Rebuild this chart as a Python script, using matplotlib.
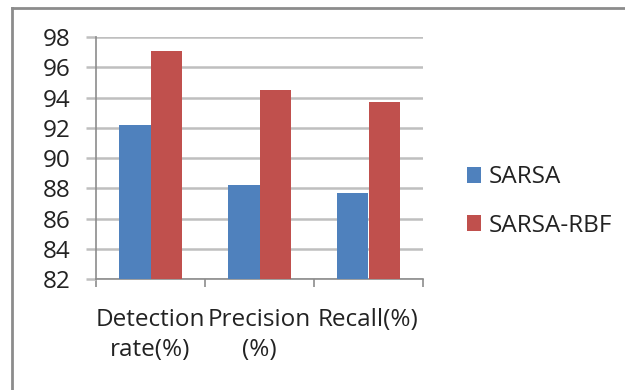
import matplotlib.pyplot as plt
import numpy as np
from matplotlib.lines import Line2D

categories = ['Detection\nrate(%)', 'Precision\n(%)', 'Recall(%)']
sarsa = [92.2, 88.2, 87.7]
sarsa_rbf = [97.1, 94.5, 93.7]
yticks = [82, 84, 86, 88, 90, 92, 94, 96, 98]

plt.rcParams['font.family'] = ['Open Sans', 'DejaVu Sans']

fig = plt.figure(figsize=(6.25, 3.9), dpi=100)
ax = fig.add_axes([0.1536, 0.2846, 0.5232, 0.6205])

x = np.arange(len(categories))
w = 0.285
ax.bar(x - w/2, sarsa, w, color='#4F81BD', label='SARSA', zorder=3)
ax.bar(x + w/2, sarsa_rbf, w, color='#C0504D', label='SARSA-RBF', zorder=3)

ax.set_ylim(82, 98)
ax.set_xlim(-0.5, len(categories) - 0.5)
ax.set_yticks(yticks)
ax.yaxis.grid(True, color='#bfbfbf', linewidth=1.8, zorder=0)
ax.tick_params(axis='y', length=7, width=1.8, color='#bfbfbf', labelsize=17.5,
               labelcolor='#222222', pad=11)

ax.set_xticks(x)
ax.set_xticklabels(categories, fontsize=17.5, color='#222222', linespacing=1.35)
ax.tick_params(axis='x', which='major', length=0, pad=21)
ax.set_xticks(np.arange(-0.5, len(categories)), minor=True)
ax.tick_params(axis='x', which='minor', length=6, width=1.2, color='#8c8c8c')

for side in ['top', 'right']:
    ax.spines[side].set_visible(False)
ax.spines['left'].set_color('#8c8c8c')
ax.spines['bottom'].set_color('#8c8c8c')
ax.spines['left'].set_linewidth(1.2)
ax.spines['bottom'].set_linewidth(1.2)

fig.legend(loc='center left', bbox_to_anchor=(0.747, 0.483), frameon=False,
           fontsize=17.5, handlelength=0.6, handleheight=0.6, handletextpad=0.3,
           labelspacing=1.0, labelcolor='#222222', borderaxespad=0,
           borderpad=0)

# outer frame (top and left edges only)
fx = 12 / 625
fy = 1 - 8 / 390
fig.add_artist(Line2D([fx, fx], [0, fy], transform=fig.transFigure,
                      color='#8c8c8c', linewidth=2))
fig.add_artist(Line2D([fx, 1], [fy, fy], transform=fig.transFigure,
                      color='#8c8c8c', linewidth=2))

fig.savefig('out.png', dpi=100)
